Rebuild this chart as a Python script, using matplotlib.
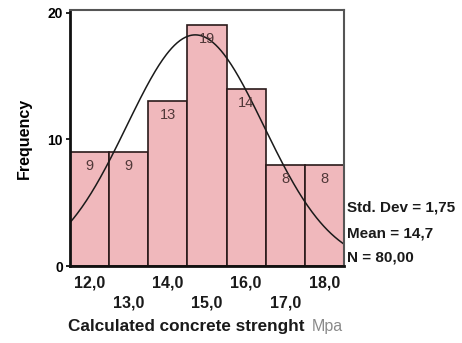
import matplotlib
matplotlib.use('AGG')
import numpy as np
import matplotlib.pyplot as plt

plt.rcParams['font.family'] = ['Liberation Sans', 'DejaVu Sans']

# histogram of calculated strength (bin centres) and counts
centres = [12, 13, 14, 15, 16, 17, 18]
counts = [9, 9, 13, 19, 14, 8, 8]
tick_labels = ["12,0", "13,0", "14,0", "15,0", "16,0", "17,0", "18,0"]
mean, sd, n = 14.7, 1.75, 80
stats = ["Std. Dev = 1,75", "Mean = 14,7", "N = 80,00"]

fig = plt.figure(figsize=(4.62, 3.43), dpi=100)
ax = fig.add_axes([70/462, 1-266/343, 274/462, 256/343])

bars = ax.bar(centres, counts, width=1.0, color="#F0B8BC", edgecolor="#2a1a1a", linewidth=1.2)
for c, v in zip(centres, counts):
    ax.text(c, v - 0.55, str(v), ha="center", va="top", fontsize=10.5, color="#503838")

# fitted normal curve scaled to the counts (bin width 1)
x = np.linspace(11.5, 18.5, 300)
y = n / (sd*np.sqrt(2*np.pi)) * np.exp(-0.5*((x-mean)/sd)**2)
ax.plot(x, y, color="#1a1a1a", lw=1.1)

ax.set_xlim(11.5, 18.5)
ax.set_ylim(0, 20.2)
ax.set_xticks(centres)
ax.set_xticklabels([])
ax.tick_params(axis='x', length=0)
for i, (c, lab) in enumerate(zip(centres, tick_labels)):
    ax.text(c, -0.75 if i % 2 == 0 else -2.35, lab, ha="center", va="top",
            fontsize=11.5, fontweight="bold", color="#1a1a1a")
ax.set_yticks([0, 10, 20])
ax.set_yticklabels(["0", "10", "20"], fontsize=10, fontweight="bold")
ax.tick_params(axis='y', length=3, width=1.2, pad=2)

for side in ["left", "bottom"]:
    ax.spines[side].set_linewidth(2)
    ax.spines[side].set_color("#111111")
for side in ["top", "right"]:
    ax.spines[side].set_linewidth(1.5)
    ax.spines[side].set_color("#555555")

ax.set_ylabel("Frequency", fontsize=11.5, fontweight="bold", labelpad=11)

for i, s in enumerate(stats):
    fig.text(347/462, 1-(208 + 25*i)/343, s, ha="left", va="center",
             fontsize=11, fontweight="bold", color="#1a1a1a")

fig.text(68/462, 1-326/343, "Calculated concrete strenght", ha="left", va="center",
         fontsize=12.3, fontweight="bold", color="#1a1a1a")
fig.text(312/462, 1-326/343, "Mpa", ha="left", va="center",
         fontsize=11.5, color="#8a8a8a")

fig.savefig("out.png", dpi=100)
